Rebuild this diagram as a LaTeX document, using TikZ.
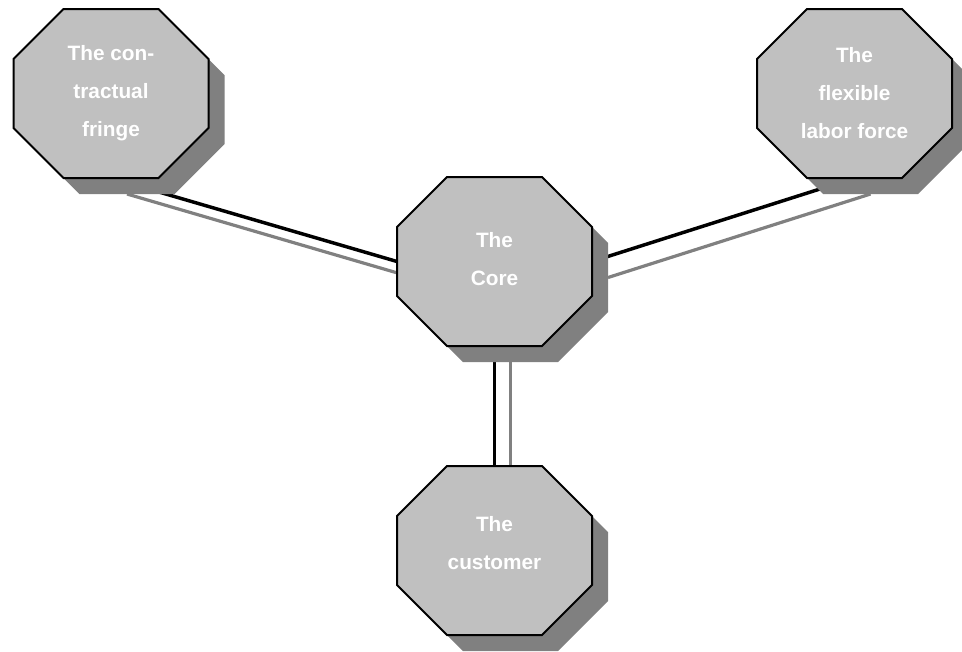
\documentclass[tikz,border=0pt]{standalone}
\usepackage{fontspec}
\setmainfont{Liberation Sans}
\pgfdeclarelayer{lines}
\pgfdeclarelayer{background}
\pgfsetlayers{lines,background,main}
\definecolor{octfill}{RGB}{192,192,192}
\definecolor{shadowgray}{RGB}{128,128,128}
\tikzset{
  octabox/.style={rectangle,
    minimum width=146.25pt, minimum height=126.75pt,
    inner sep=0pt, outer sep=0pt,
    text=white, align=center,
    font={\bfseries\fontsize{15.6pt}{28.5pt}\selectfont}},
  octline/.style={draw=black, line width=1.5pt, fill=octfill, line join=miter},
  octshadow/.style={fill=shadowgray, transform canvas={shift={(16,16)}}},
  blackline/.style={draw=black, line width=2.6pt},
  grayline/.style={draw=shadowgray, line width=2.4pt, transform canvas={shift={(16,16)}}},
}
\newcommand\octpath[1]{([shift={(50,0)}]#1.north west) -- ([shift={(-50,0)}]#1.north east) -- ([shift={(0,50)}]#1.north east) -- ([shift={(0,-50)}]#1.south east) -- ([shift={(-50,0)}]#1.south east) -- ([shift={(50,0)}]#1.south west) -- ([shift={(0,-50)}]#1.south west) -- ([shift={(0,50)}]#1.north west) -- cycle}
\newcommand\octdraw[1]{%
  \begin{pgfonlayer}{background}
    \path[octshadow] \octpath{#1};
    \path[octline] \octpath{#1};
  \end{pgfonlayer}}
\newcommand\upline[1]{\raisebox{5.25pt}[\height][\depth]{#1}}
\begin{document}
\begin{tikzpicture}[x=0.75pt,y=-0.75pt]
\useasboundingbox (0,0) rectangle (962,651);
\node[octabox] (fringe) at (111,93.5) {The con-\\tractual\\fringe};
\node[octabox] (flex) at (854.5,93.5) {The\\flexible\\labor force};
\node[octabox] (core) at (494.5,261.5) {\raisebox{1.5pt}[\height][\depth]{The}\\\raisebox{1.5pt}[\height][\depth]{Core}};
\node[octabox] (cust) at (494.5,550.5) {\upline{The}\\\upline{customer}};
\octdraw{fringe}
\octdraw{flex}
\octdraw{core}
\octdraw{cust}
\begin{pgfonlayer}{lines}
\draw[grayline] (fringe.south) -- (core.west);
\draw[grayline] (core.east) -- (flex.south);
\draw[grayline] (core.south) -- (cust.north);
\draw[blackline] (fringe.south) -- (core.west);
\draw[blackline] (core.east) -- (flex.south);
\draw[blackline] (core.south) -- (cust.north);
\end{pgfonlayer}
\end{tikzpicture}
\end{document}
